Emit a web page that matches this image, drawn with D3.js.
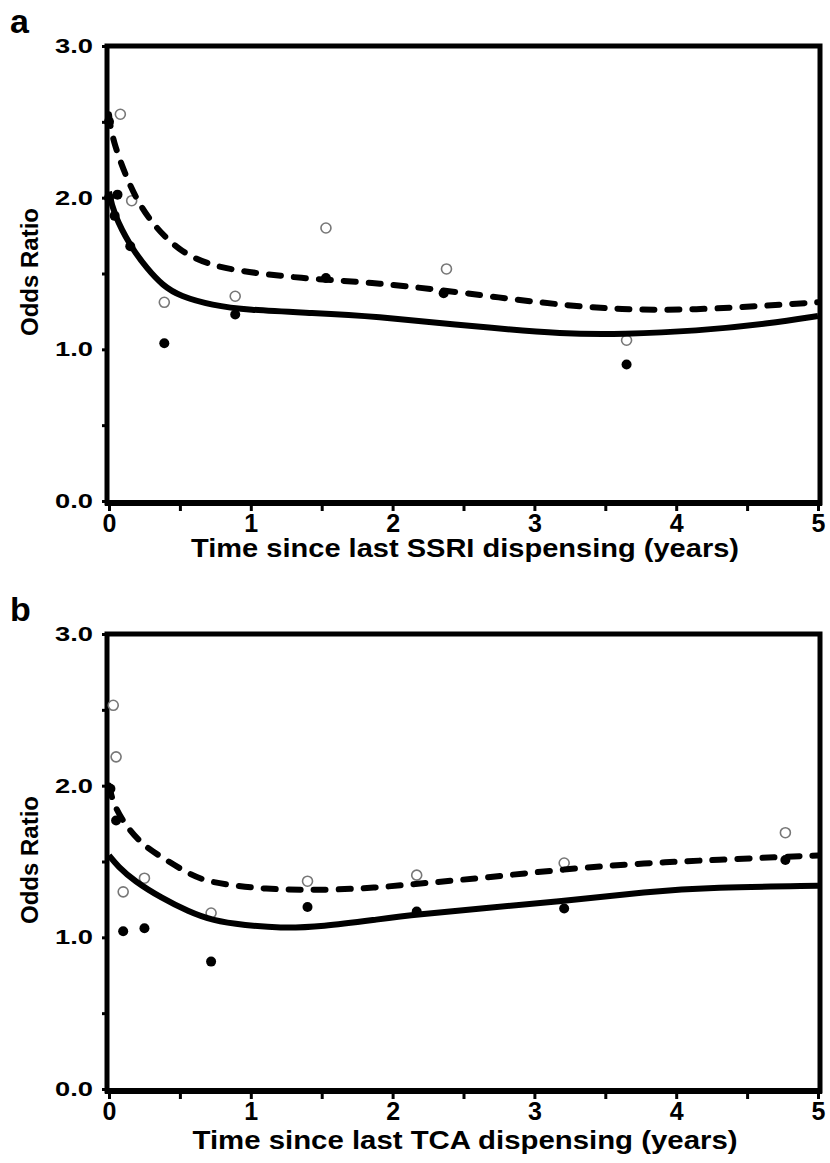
<!DOCTYPE html>
<html>
<head>
<meta charset="utf-8">
<script src="https://cdn.jsdelivr.net/npm/d3@7"></script>
<style>
  body { margin: 0; background: #fff; }
  text { font-family: "Liberation Sans", Arial, sans-serif; font-weight: bold; }
</style>
</head>
<body>
<div id="chart"></div>
<script>
// Canvas
const width = 830,
      height = 1163

// Axis ticks
const xTicks = [0, 0.5, 1, 1.5, 2, 2.5, 3, 3.5, 4, 4.5, 5]
const yTicks = [0, 0.5, 1, 1.5, 2, 2.5, 3]

// Panel a: SSRI
const ssriOpenX = [0.08, 0.16, 0.39, 0.89, 1.53, 2.38, 3.65]
const ssriOpenY = [2.55, 1.98, 1.31, 1.35, 1.80, 1.53, 1.06]
const ssriFilledX = [0, 0, 0.06, 0.04, 0.15, 0.39, 0.89, 1.53, 2.36, 3.65]
const ssriFilledY = [2.50, 2.00, 2.02, 1.88, 1.68, 1.04, 1.23, 1.47, 1.37, 0.90]
const ssriDashX = [0, 0.02, 0.15, 0.29, 0.5, 0.73, 0.97, 1.33, 1.86, 2.36, 3.09, 3.62, 4.14, 4.66, 5]
const ssriDashY = [2.55, 2.39, 2.06, 1.84, 1.64, 1.55, 1.51, 1.47, 1.44, 1.39, 1.30, 1.26, 1.26, 1.29, 1.31]
const ssriSolidX = [0, 0.03, 0.15, 0.27, 0.38, 0.5, 0.73, 0.97, 1.44, 1.86, 2.57, 3.22, 3.62, 4.14, 4.66, 5]
const ssriSolidY = [2.04, 1.90, 1.68, 1.53, 1.42, 1.35, 1.29, 1.26, 1.24, 1.22, 1.15, 1.10, 1.10, 1.12, 1.17, 1.22]

// Panel b: TCA
const tcaOpenX = [0.03, 0.05, 0.10, 0.25, 0.72, 1.40, 2.17, 3.21, 4.77]
const tcaOpenY = [2.53, 2.19, 1.30, 1.39, 1.16, 1.37, 1.41, 1.49, 1.69]
const tcaFilledX = [0.01, 0.05, 0.10, 0.25, 0.72, 1.40, 2.17, 3.21, 4.77]
const tcaFilledY = [1.98, 1.77, 1.04, 1.06, 0.84, 1.20, 1.17, 1.19, 1.51]
const tcaDashX = [0, 0.01, 0.04, 0.13, 0.25, 0.37, 0.54, 0.68, 0.89, 1.09, 1.40, 1.79, 2.14, 2.62, 3.21, 3.79, 4.26, 5]
const tcaDashY = [2.0, 1.96, 1.86, 1.72, 1.60, 1.53, 1.43, 1.37, 1.34, 1.32, 1.31, 1.32, 1.35, 1.39, 1.45, 1.49, 1.51, 1.54]
const tcaSolidX = [0, 0.06, 0.18, 0.37, 0.56, 0.73, 0.96, 1.2, 1.5, 1.91, 2.17, 2.62, 3.21, 3.79, 4.26, 5]
const tcaSolidY = [1.54, 1.47, 1.37, 1.26, 1.17, 1.11, 1.08, 1.06, 1.07, 1.12, 1.15, 1.19, 1.24, 1.30, 1.33, 1.34]

const zip = (xs, ys) => xs.map((x, i) => ({ x: x, y: ys[i] }))

let svg = d3.select('#chart')
  .append('svg')
  .attr('width', width)
  .attr('height', height)

let xScale = d3.scaleLinear()
  .domain([0, 5])
  .range([109, 818])

let drawPanel = (p) => {
  let yScale = d3.scaleLinear()
    .domain([0, 3])
    .range([p.top + 455, p.top])

  let g = svg.append('g')

  // frame
  g.append('rect')
    .attr('x', 107)
    .attr('y', p.top)
    .attr('width', 713)
    .attr('height', 457)
    .attr('fill', 'none')
    .attr('stroke', '#000')
    .attr('stroke-width', 5)

  g.append('line')
    .attr('x1', 105).attr('x2', 822)
    .attr('y1', p.top + 457).attr('y2', p.top + 457)
    .attr('stroke', '#000')
    .attr('stroke-width', 6)

  // axes
  let yAxis = g.append('g')
    .attr('transform', 'translate(107, 0)')
    .call(d3.axisLeft(yScale)
      .tickValues(yTicks)
      .tickSize(5)
      .tickPadding(9)
      .tickFormat(d => d % 1 === 0 ? d3.format('.1f')(d) : ''))
  yAxis.select('.domain').remove()
  yAxis.selectAll('line').attr('stroke-width', 3)
  yAxis.selectAll('text')
    .attr('font-size', 20)
    .attr('font-family', '"Liberation Sans", Arial, sans-serif')
    .attr('fill', '#000')
    .filter(d => d % 1 === 0)
    .attr('textLength', 38)
    .attr('lengthAdjust', 'spacingAndGlyphs')

  let xAxis = g.append('g')
    .attr('transform', `translate(0, ${p.top + 459})`)
    .call(d3.axisBottom(xScale)
      .tickValues(xTicks)
      .tickSize(6)
      .tickPadding(3)
      .tickFormat(d => d % 1 === 0 ? d : ''))
  xAxis.select('.domain').remove()
  xAxis.selectAll('line').attr('stroke-width', 3)
  xAxis.selectAll('text')
    .attr('font-size', 25)
    .attr('font-family', '"Liberation Sans", Arial, sans-serif')
    .attr('fill', '#000')

  // titles
  g.append('text')
    .attr('x', 465)
    .attr('y', p.top + p.titleDy)
    .attr('text-anchor', 'middle')
    .attr('font-size', 25)
    .attr('textLength', p.titleLen)
    .attr('lengthAdjust', 'spacingAndGlyphs')
    .text(p.xTitle)

  g.append('text')
    .attr('transform', `translate(38, ${p.top + 226}) rotate(-90)`)
    .attr('text-anchor', 'middle')
    .attr('font-size', 24)
    .text('Odds Ratio')

  g.append('text')
    .attr('x', 10)
    .attr('y', p.top - 13)
    .attr('font-size', 34)
    .text(p.label)

  // open circles
  g.selectAll('.open')
    .data(zip(p.openX, p.openY))
    .enter()
    .append('circle')
    .attr('class', 'open')
    .attr('cx', d => xScale(d.x))
    .attr('cy', d => yScale(d.y))
    .attr('r', 5)
    .attr('fill', '#fff')
    .attr('stroke', '#777')
    .attr('stroke-width', 1.6)

  let line = d3.line()
    .x(d => xScale(d.x))
    .y(d => yScale(d.y))
    .curve(d3.curveBasis)

  g.append('path')
    .datum(zip(p.dashX, p.dashY))
    .attr('d', line)
    .attr('fill', 'none')
    .attr('stroke', '#000')
    .attr('stroke-width', 6)
    .attr('stroke-linecap', 'round')
    .attr('stroke-dasharray', '12,13')

  g.append('path')
    .datum(zip(p.solidX, p.solidY))
    .attr('d', line)
    .attr('fill', 'none')
    .attr('stroke', '#000')
    .attr('stroke-width', 6)

  g.selectAll('.filled')
    .data(zip(p.filledX, p.filledY))
    .enter()
    .append('circle')
    .attr('class', 'filled')
    .attr('cx', d => xScale(d.x))
    .attr('cy', d => yScale(d.y))
    .attr('r', 5)
    .attr('fill', '#000')
}

drawPanel({
  top: 46, label: 'a', titleDy: 511, titleLen: 548,
  xTitle: 'Time since last SSRI dispensing (years)',
  openX: ssriOpenX, openY: ssriOpenY,
  filledX: ssriFilledX, filledY: ssriFilledY,
  dashX: ssriDashX, dashY: ssriDashY,
  solidX: ssriSolidX, solidY: ssriSolidY
})

drawPanel({
  top: 634, label: 'b', titleDy: 515, titleLen: 545,
  xTitle: 'Time since last TCA dispensing (years)',
  openX: tcaOpenX, openY: tcaOpenY,
  filledX: tcaFilledX, filledY: tcaFilledY,
  dashX: tcaDashX, dashY: tcaDashY,
  solidX: tcaSolidX, solidY: tcaSolidY
})
</script>
</body>
</html>
